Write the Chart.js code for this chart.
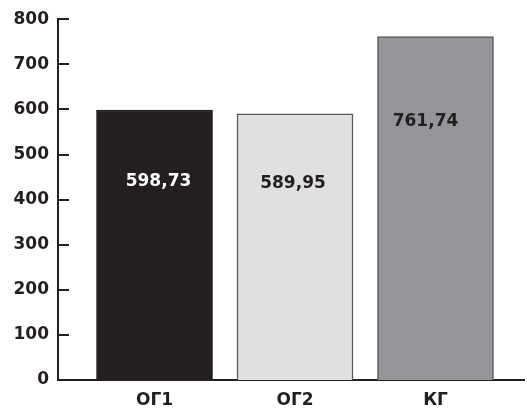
<!DOCTYPE html>
<html>
<head>
<meta charset="utf-8">
<script src="https://cdn.jsdelivr.net/npm/chart.js@4/dist/chart.umd.min.js"></script>
<style>
  html, body { margin: 0; padding: 0; background: #fff; }
  canvas { display: block; }
</style>
</head>
<body>
<canvas id="chart" width="527" height="408"></canvas>
<script>
// Groups and their mean values
const categories = ['ОГ1', 'ОГ2', 'КГ'];
const values = [598.73, 589.95, 761.74];
const valueLabels = ['598,73', '589,95', '761,74'];
const yTicks = [0, 100, 200, 300, 400, 500, 600, 700, 800];

const fillColors = ['#231f20', '#dfe0e2', '#939598'];
const edgeColors = ['#231f20', '#58595b', '#58595b'];
const labelColors = ['#ffffff', '#231f20', '#231f20'];
const labelDrop = [72, 70, 85];
const labelShift = [4, -2, -10];

const FONT = '"DejaVu Sans", "Liberation Sans", Arial, sans-serif';
const AXIS = '#231f20';

// Inward tick marks on the value axis
const innerTicks = {
  id: 'innerTicks',
  afterDraw(chart) {
    const y = chart.scales.y;
    const ctx = chart.ctx;
    ctx.save();
    ctx.strokeStyle = AXIS;
    ctx.lineWidth = 2;
    y.ticks.forEach(t => {
      const py = Math.round(y.getPixelForValue(t.value));
      ctx.beginPath();
      ctx.moveTo(chart.chartArea.left, py);
      ctx.lineTo(chart.chartArea.left + 11, py);
      ctx.stroke();
    });
    ctx.restore();
  }
};

// Value labels written inside each bar
const barValues = {
  id: 'barValues',
  afterDatasetsDraw(chart) {
    const meta = chart.getDatasetMeta(0);
    const ctx = chart.ctx;
    ctx.save();
    ctx.font = 'bold 17px ' + FONT;
    ctx.textAlign = 'center';
    ctx.textBaseline = 'middle';
    meta.data.forEach((bar, i) => {
      ctx.fillStyle = labelColors[i];
      ctx.fillText(valueLabels[i], bar.x + labelShift[i], bar.y + labelDrop[i]);
    });
    ctx.restore();
  }
};

new Chart(document.getElementById('chart'), {
  type: 'bar',
  data: {
    datasets: [{
      data: values.map((v, i) => ({ x: i + 1, y: v })),
      backgroundColor: fillColors,
      borderColor: edgeColors,
      borderWidth: 1.5,
      barThickness: 116
    }]
  },
  options: {
    responsive: false,
    animation: false,
    events: [],
    layout: { padding: { top: 19, right: 3, left: 0, bottom: 0 } },
    plugins: { legend: { display: false }, tooltip: { enabled: false } },
    scales: {
      x: {
        type: 'linear',
        offset: false,
        bounds: 'ticks',
        min: 0.313,
        max: 3.63,
        grid: { display: false, drawTicks: false, offset: false },
        border: { display: true, color: AXIS, width: 2 },
        afterBuildTicks: s => { s.ticks = categories.map((c, i) => ({ value: i + 1 })); },
        afterFit: s => { s.height = 28; },
        ticks: {
          autoSkip: false,
          maxRotation: 0,
          padding: 10,
          color: AXIS,
          font: { family: FONT, size: 17, weight: 'bold' },
          callback: v => categories[v - 1]
        }
      },
      y: {
        min: 0,
        max: 800,
        grid: { display: false, drawTicks: false },
        border: { display: true, color: AXIS, width: 2 },
        afterBuildTicks: s => { s.ticks = yTicks.map(v => ({ value: v })); },
        afterFit: s => { s.width = 58; },
        ticks: {
          padding: 9,
          color: AXIS,
          font: { family: FONT, size: 17, weight: 'bold' }
        }
      }
    }
  },
  plugins: [innerTicks, barValues]
});
</script>
</body>
</html>
